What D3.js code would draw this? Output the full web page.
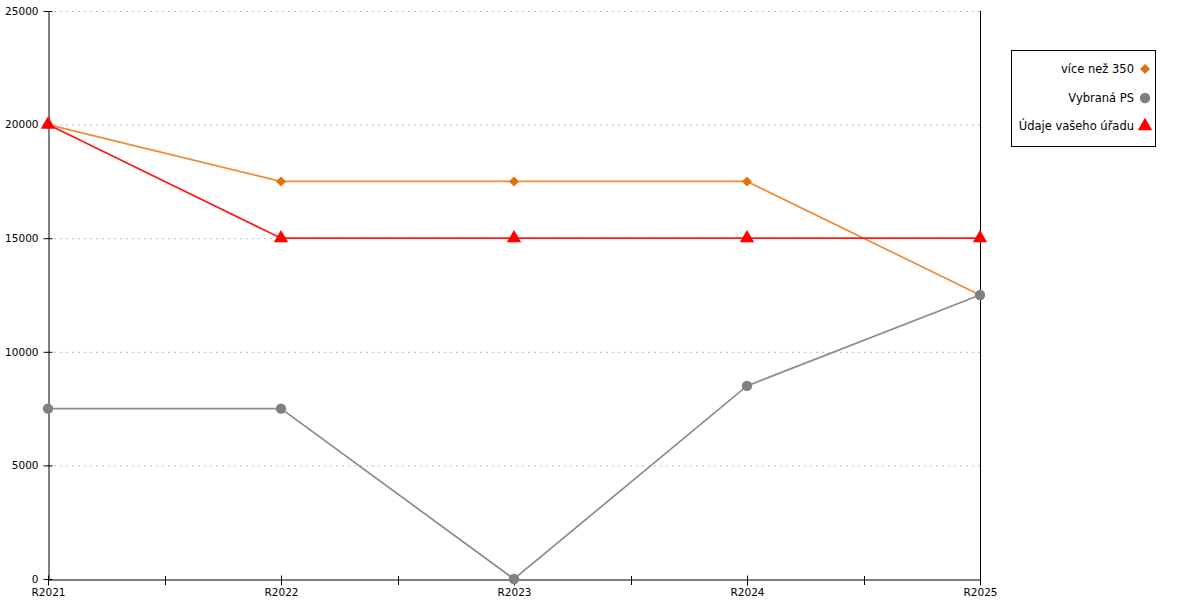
<!DOCTYPE html>
<html><head><meta charset="utf-8">
<script src="https://cdn.jsdelivr.net/npm/d3@7"></script>
<style>body{margin:0;background:#fff}svg{display:block}text{font-family:"DejaVu Sans",sans-serif}</style>
</head><body><svg id="c" width="1200" height="600"></svg>
<script>
const categories = ["R2021","R2022","R2023","R2024","R2025"];
const yTicks = [0,5000,10000,15000,20000,25000];
const seriesNames = ["více než 350","Vybraná PS","Údaje vašeho úřadu"];
const valsOrange = [20000,17500,17500,17500,12500];
const valsGray = [7500,7500,0,8500,12500];
const valsRed = [20000,15000,15000,15000,15000];

const squareDiamond = {draw(ctx, size){const r=Math.sqrt(size/2);ctx.moveTo(0,-r);ctx.lineTo(r,0);ctx.lineTo(0,r);ctx.lineTo(-r,0);ctx.closePath();}};

const series = [
  {name: seriesNames[0], values: valsOrange, line:"#ef8a35", mark:"#e2700f", sym:squareDiamond, size:50},
  {name: seriesNames[1], values: valsGray, line:"#8c8c8c", mark:"#808080", sym:d3.symbolCircle, size:85},
  {name: seriesNames[2], values: valsRed, line:"#ff1a1a", mark:"#ff0000", sym:d3.symbolTriangle, size:90}
];

const svg = d3.select("#c");
const L=48, R=980, T=11, B=579;
const x = d3.scalePoint().domain(categories).range([L,R]);
const y = d3.scaleLinear().domain([0,25000]).range([B,T]);

// grid
svg.append("g").selectAll("line").data(yTicks.filter(d=>d>0)).join("line")
  .attr("x1",L).attr("x2",R).attr("y1",d=>y(d)+0.5).attr("y2",d=>y(d)+0.5)
  .attr("stroke","#bdbdbd").attr("stroke-dasharray","2,4").attr("stroke-width",1);

// y axis
const ya = svg.append("g").attr("transform",`translate(${L+0.5},0)`)
  .call(d3.axisLeft(y).tickValues(yTicks).tickSize(5).tickSizeOuter(0).tickFormat(d3.format("d")));
ya.select(".domain").attr("stroke","#000");
ya.selectAll(".tick line").attr("x2",4).attr("x1",-5).attr("stroke","#000");
ya.selectAll("text").attr("x",-10).attr("font-size",10.5).attr("fill","#000").attr("font-family","DejaVu Sans");

// right line
svg.append("line").attr("x1",R+0.5).attr("x2",R+0.5).attr("y1",T).attr("y2",B).attr("stroke","#000");

// x axis
const xa = svg.append("g").attr("transform",`translate(0,${B+0.5})`)
  .call(d3.axisBottom(x).tickSize(6).tickSizeOuter(0));
xa.select(".domain").attr("stroke","#000");
xa.selectAll(".tick line").attr("y1",-4).attr("y2",6).attr("stroke","#000");
xa.selectAll("text").attr("y",9).attr("font-size",10.5).attr("fill","#000").attr("font-family","DejaVu Sans");
// minor ticks at midpoints
const mids = categories.slice(1).map((c,i)=>(x(categories[i])+x(c))/2);
svg.append("g").selectAll("line").data(mids).join("line")
  .attr("x1",d=>Math.round(d)+0.5).attr("x2",d=>Math.round(d)+0.5)
  .attr("y1",B-3).attr("y2",B+6).attr("stroke","#000");

// lines
const lineGen = d3.line().x((d,i)=>x(categories[i])).y(d=>y(d));
series.forEach(s=>{
  svg.append("path").datum(s.values).attr("d",lineGen)
    .attr("fill","none").attr("stroke",s.line).attr("stroke-width",1.7);
});
series.forEach(s=>{
  svg.append("g").selectAll("path").data(s.values).join("path")
    .attr("transform",(d,i)=>`translate(${x(categories[i])},${y(d)})`)
    .attr("d",d3.symbol().type(s.sym).size(s.size)).attr("fill",s.mark);
});

// legend
const lg = svg.append("g");
lg.append("rect").attr("x",1011.5).attr("y",50.5).attr("width",144).attr("height",96)
  .attr("fill","#fff").attr("stroke","#000");
const rowY = [69,98,126];
series.forEach((s,i)=>{
  lg.append("text").attr("x",1134).attr("y",rowY[i]).attr("dy","0.35em")
    .attr("text-anchor","end").attr("font-size",11.5).attr("fill","#000").text(s.name);
  lg.append("path").attr("transform",`translate(1145,${rowY[i]})`)
    .attr("d",d3.symbol().type(s.sym).size(s.size)).attr("fill",s.mark);
});
</script></body></html>
